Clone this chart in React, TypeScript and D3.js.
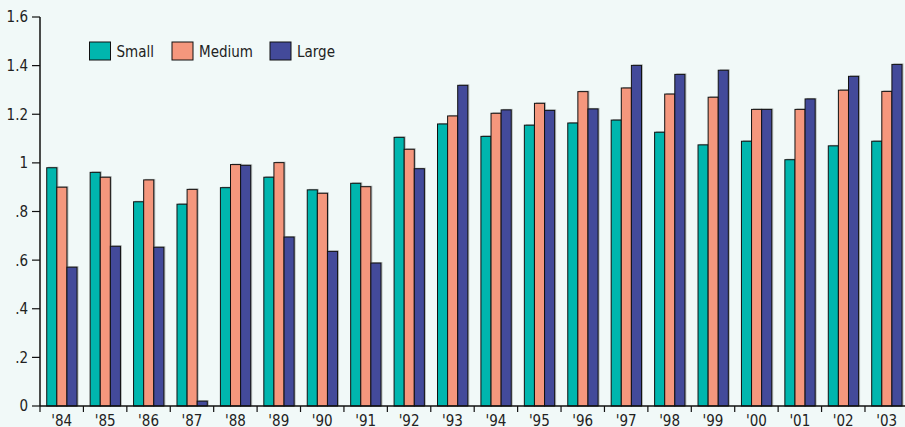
import React from "react";
import * as d3 from "d3";

const years = ["'84","'85","'86","'87","'88","'89","'90","'91","'92","'93","'94","'95","'96","'97","'98","'99","'00","'01","'02","'03"];
const seriesNames = ["Small", "Medium", "Large"];
const small = [0.98, 0.961, 0.84, 0.83, 0.898, 0.941, 0.889, 0.916, 1.105, 1.16, 1.109, 1.155, 1.164, 1.176, 1.126, 1.074, 1.089, 1.013, 1.07, 1.089];
const medium = [0.90, 0.941, 0.93, 0.891, 0.993, 1.001, 0.875, 0.902, 1.056, 1.193, 1.204, 1.245, 1.293, 1.308, 1.283, 1.27, 1.22, 1.22, 1.299, 1.294];
const large = [0.571, 0.657, 0.653, 0.02, 0.99, 0.695, 0.636, 0.588, 0.976, 1.319, 1.218, 1.216, 1.222, 1.401, 1.364, 1.381, 1.22, 1.263, 1.356, 1.405];
const yTicks = [0, 0.2, 0.4, 0.6, 0.8, 1, 1.2, 1.4, 1.6];
const yTickLabels = ["0", ".2", ".4", ".6", ".8", "1", "1.2", "1.4", "1.6"];
const colors = ["#00b6ae", "#f5977d", "#434a9a"];

const W = 905, H = 427;
const FONT = "'Liberation Sans Narrow', 'DejaVu Sans Condensed', 'Roboto', sans-serif";

export default function App() {
  const series = [small, medium, large];
  const x = d3.scaleBand<string>().domain(years).range([40, 40 + 43.42 * years.length]).paddingInner(0).paddingOuter(0);
  const inner = d3.scaleBand<number>().domain([0, 1, 2]).range([x.bandwidth() * 0.155, x.bandwidth() * 0.155 + 30.3]);
  const y = d3.scaleLinear().domain([0, 1.6]).range([406, 17]);

  const boundaries = years.map((yr) => x(yr) as number);

  return (
    <div style={{ position: "absolute", left: 0, top: 0 }}>
      <svg width={W} height={H} style={{ display: "block", background: "#f1f9f8" }}>
        <rect x={0} y={0} width={W} height={H} fill="#f1f9f8" />
        {/* bars */}
        {years.map((yr, i) => (
          <g key={yr} transform={`translate(${x(yr)},0)`}>
            {series.map((s, k) => {
              const bx = inner(k) as number;
              const by = y(s[i]);
              const bh = y(0) - by;
              return (
                <g key={k}>
                  <rect x={bx + 1.5} y={by - 1} width={inner.bandwidth()} height={bh + 1} fill="#000" opacity={0.25} />
                  <rect x={bx} y={by} width={inner.bandwidth()} height={bh} fill={colors[k]} stroke="#111" strokeWidth={1} />
                </g>
              );
            })}
          </g>
        ))}
        {/* y axis */}
        <line x1={40} x2={40} y1={y(1.6)} y2={y(0)} stroke="#111" strokeWidth={1.5} />
        {yTicks.map((t, i) => (
          <g key={t}>
            <line x1={32} x2={40} y1={y(t)} y2={y(t)} stroke="#111" strokeWidth={1.2} />
            <text x={28} y={y(t)} dy="0.36em" textAnchor="end" fontFamily={FONT} fontSize={15} fill="#222">{yTickLabels[i]}</text>
          </g>
        ))}
        {/* x axis */}
        <line x1={40} x2={W} y1={y(0)} y2={y(0)} stroke="#111" strokeWidth={1.5} />
        {boundaries.map((bx, i) => (
          <line key={i} x1={bx} x2={bx} y1={y(0)} y2={y(0) + 6} stroke="#111" strokeWidth={1.2} />
        ))}
        {years.map((yr) => (
          <text key={yr} x={(x(yr) as number) + x.bandwidth() / 2} y={426} textAnchor="middle" fontFamily={FONT} fontSize={15} fill="#222">{yr}</text>
        ))}
        {/* legend */}
        {seriesNames.map((n, k) => {
          const lx = [89.5, 172, 270][k];
          return (
            <g key={n}>
              <rect x={lx} y={42} width={21} height={18} fill={colors[k]} stroke="#111" strokeWidth={1} />
              <text x={lx + 27} y={57} fontFamily={FONT} fontSize={15} fill="#222">{n}</text>
            </g>
          );
        })}
      </svg>
    </div>
  );
}
